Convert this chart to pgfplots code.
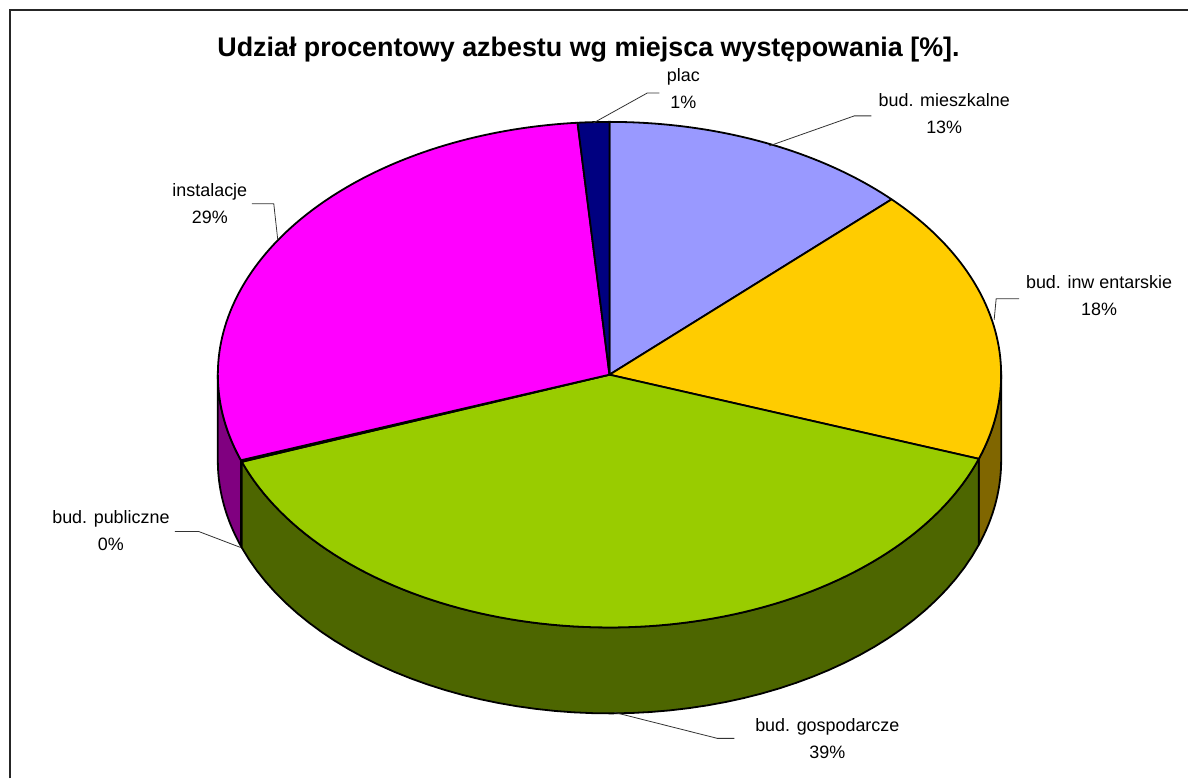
\documentclass[border=0pt]{standalone}
\usepackage{pgfplots}
\pgfplotsset{compat=1.18}
\usepackage{fontspec}
\setmainfont{Liberation Sans}
\definecolor{cA}{HTML}{9999FF}
\definecolor{cB}{HTML}{FFCC00}
\definecolor{cBs}{HTML}{806600}
\definecolor{cC}{HTML}{99CC00}
\definecolor{cCs}{HTML}{4D6600}
\definecolor{cD}{HTML}{800080}
\definecolor{cE}{HTML}{FF00FF}
\definecolor{cEs}{HTML}{800080}
\definecolor{cF}{HTML}{000080}
% shares [%]
\def\pA{12.8}% bud. mieszkalne
\def\pB{17.6}% bud. inwentarskie
\def\pC{39.0}% bud. gospodarcze
\def\pD{0.1}% bud. publiczne
\def\pE{29.2}% instalacje
\def\pF{1.3}% plac
\pgfmathsetmacro\aA{90-3.6*\pA}%
\pgfmathsetmacro\aB{\aA-3.6*\pB}%
\pgfmathsetmacro\aC{\aB-3.6*\pC}%
\pgfmathsetmacro\aD{\aC-3.6*\pD}%
\pgfmathsetmacro\aE{\aD-3.6*\pE}%
\pgfmathsetmacro\aF{\aE-3.6*\pF}%
\newcommand\topface[3]{\addplot[fill=#3,draw=black,line width=1.8bp,line join=round,domain=#1:#2,samples=90]
  ({610+392*cos(x)},{404+253*sin(x)}) -- (axis cs:610,404) -- cycle;}
\newcommand\sidewall[3]{\addplot[fill=#3,draw=black,line width=1.8bp,line join=round,domain=0:3,samples=151]
  ({610+392*cos((#1)+((#2)-(#1))*min(x,1)-((#2)-(#1))*max(x-2,0))},
   {404+253*sin((#1)+((#2)-(#1))*min(x,1)-((#2)-(#1))*max(x-2,0))-86*min(max(x-1,0),1)}) -- cycle;}
\newcommand\lab[4]{\node[anchor=base] at (axis cs:#1,{779-#2}) {#3};
  \node[anchor=base] at (axis cs:#1,{779-#2-27}) {#4};}
\begin{document}%
\begin{tikzpicture}
\begin{axis}[width=1189bp,height=779bp,scale only axis,xmin=0,xmax=1189,ymin=0,ymax=779,hide axis,clip=false]
\path (axis cs:0,0) rectangle (axis cs:1189,779);
\draw[line width=2bp,black!85] (axis cs:10.5,0) -- (axis cs:10.5,768.5) -- (axis cs:1189,768.5);
% side walls
\sidewall{\aB}{0}{cBs}
\sidewall{\aC}{\aB}{cCs}
\sidewall{-180}{\aD}{cEs}
% top faces
\topface{\aA}{90}{cA}
\topface{\aB}{\aA}{cB}
\topface{\aC}{\aB}{cC}
\topface{\aD}{\aC}{cD}
\topface{\aE}{\aD}{cE}
\topface{\aF}{\aE}{cF}
% title
\node[anchor=base,font=\bfseries\fontsize{27}{32}\selectfont] at (axis cs:589,722) {Udział procentowy azbestu wg miejsca występowania [\%].};
% leaders
\begin{scope}[line width=0.8bp,black!80]
\draw (axis cs:594,656) -- (axis cs:648,686) -- (axis cs:660,686);
\draw (axis cs:770,633) -- (axis cs:855,663) -- (axis cs:872,663);
\draw (axis cs:995,459) -- (axis cs:997,480) -- (axis cs:1020,480);
\draw (axis cs:615,66) -- (axis cs:718,40) -- (axis cs:735,40);
\draw (axis cs:241,231) -- (axis cs:199,247) -- (axis cs:175,247);
\draw (axis cs:278,539) -- (axis cs:274,575) -- (axis cs:252,575);
\end{scope}
% labels
\begin{scope}[every node/.style={font=\fontsize{18}{27}\selectfont,inner sep=0pt}]
\lab{684}{82}{plac}{1\%}
\lab{945}{107}{bud. mieszkalne}{13\%}
\lab{1100}{289}{bud. inw entarskie}{18\%}
\lab{828}{732}{bud. gospodarcze}{39\%}
\lab{111}{524}{bud. publiczne}{0\%}
\lab{210}{197}{instalacje}{29\%}
\end{scope}
\end{axis}
\end{tikzpicture}%
\end{document}
